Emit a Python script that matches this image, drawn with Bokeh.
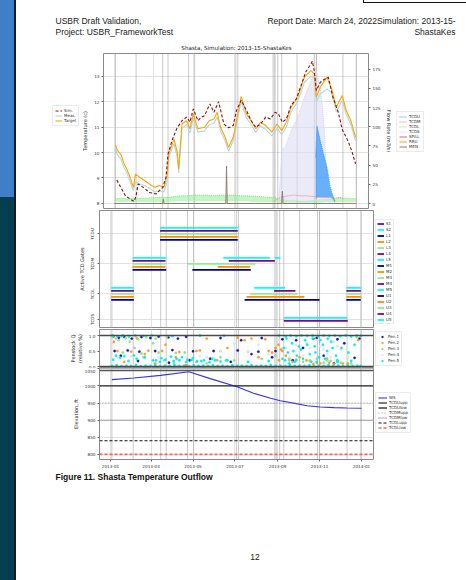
import pandas as pd
from bokeh.plotting import figure
from bokeh.models import (Range1d, LinearAxis, Legend, LegendItem, Span, Label,
                          FixedTicker, DatetimeTickFormatter, PrintfTickFormatter)
from bokeh.layouts import column, row
from bokeh.embed import file_html
from bokeh.resources import INLINE

# ---------------- text ----------------
header_left = ["USBR Draft Validation,", "Project: USBR_FrameworkTest"]
header_right = ["Report Date: March 24, 2022Simulation: 2013-15-", "ShastaKes"]
chart_title = "Shasta, Simulation: 2013-15-ShastaKes"
caption = "Figure 11. Shasta Temperature Outflow"
page_number = "12"

# ---------------- data (day of year 2013) ----------------
sim_days = [4,10,17,24,30,33,36,44,53,63,73,78,81,87,94,102,109,114,119,126,131,136,144,150,157,165,172,179,184,191,
            199,206,213,220,228,235,242,247,253,259,266,274,281,288,296,298,301,304,310,317,322,329,337,343,349,354,358,363]
sim_temp = [8.92,8.63,8.30,8.17,8.08,8.30,8.76,8.63,8.43,8.37,8.63,9.02,9.94,10.47,10.93,11.25,11.39,11.20,11.71,11.25,
            11.39,11.45,11.91,11.58,12.00,11.12,10.97,11.06,11.65,12.05,11.65,11.25,10.99,11.12,11.39,11.32,11.58,11.52,
            11.19,11.32,11.85,12.11,12.63,13.16,13.49,13.59,13.20,12.44,12.76,12.89,12.96,12.17,11.58,10.90,10.60,10.30,10.00,9.55]
obs_days = [2,5,10,15,19,24,29,32,39,46,53,61,68,75,80,82,90,95,97,102,109,114,119,126,136,143,150,155,160,167,172,179,
            184,191,199,206,213,220,228,237,245,252,259,266,276,286,296,301,304,310,320,327,334,343,349,356,363]
target_temp = [10.30,10.07,9.94,9.55,9.35,9.02,8.63,9.15,9.02,8.89,8.76,8.63,8.70,8.63,9.15,9.94,10.53,10.00,9.35,11.12,
               11.25,10.93,11.52,10.93,10.99,11.25,11.32,11.58,10.99,10.60,10.20,10.60,11.25,12.20,11.52,11.25,10.93,11.19,
               11.06,10.80,11.12,10.86,11.19,11.78,12.17,12.96,13.22,13.09,12.17,12.57,12.96,12.50,11.78,12.24,11.65,11.25,10.60]
meas_temp = [10.15,9.90,9.75,9.40,9.20,8.85,8.50,8.85,8.75,8.70,8.60,8.45,8.50,8.45,8.90,9.80,10.35,9.80,9.20,10.95,
             11.10,10.75,11.35,10.80,10.85,11.10,11.15,11.40,10.85,10.45,10.05,10.45,11.10,12.00,11.35,11.10,10.80,11.05,
             10.90,10.65,10.95,10.70,11.00,11.60,12.00,12.75,13.00,12.95,12.00,12.30,12.50,12.35,11.60,12.05,11.50,11.10,10.45]

tcdl_flow = [(2,2,6),(10,2,7),(20,2,6),(30,2,7),(40,2,7),(50,2,7),(60,2,8),(70,2,8),(80,2,8),(90,3,9),(100,3,10),
             (110,3,10),(120,3,11),(130,3,11),(140,3,11),(150,3,10),(160,3,11),(170,3,11),(180,3,11),(190,3,10),
             (200,3,10),(210,2,9),(220,2,9),(230,2,8),(240,2,8),(250,1,6),(260,1,4),(270,1,4),(280,1,3),(290,1,3),
             (300,1,4),(310,1,5),(320,2,6),(330,2,6),(340,2,7),(350,2,7),(364,2,6)]
tcds_flow = [(248,0,8),(252,3,70),(258,3,75),(266,3,95),(276,3,112),(286,3,138),(296,3,160),(303,3,177),
             (310,3,150),(315,3,110),(320,2,30),(326,0,8)]
tcdu_flow = [(303,5,60),(305,8,101),(310,8,82),(315,8,64),(320,8,47),(325,8,21),(329,6,10),(332,0,3)]
tcdm_flow = [(240,3),(250,8),(262,10),(270,11),(280,10),(290,10),(300,9),(310,8),(320,8),(330,7),(340,8),(345,6)]
spill_flow = [(0,0),(364,0)]
rru_flow = [(2,0),(344,0)]
men_flow = [(2,0),(73,0),(74,5.6),(75,0),(168,0),(169,49),(170,0),(252,0),(253,16),(254,0),(344,0)]
flow_names = ["TCDU", "TCDM", "TCDL", "TCDS", "SPILL", "RRU", "MEN"]

gate_changes = ["2013-01-03","2013-02-03","2013-03-15","2013-03-23","2013-04-23","2013-05-02","2013-07-03",
                "2013-07-06","2013-08-28","2013-08-30","2013-09-04","2013-09-10","2013-10-03","2013-10-29",
                "2013-11-01","2013-12-11","2013-12-31"]

gate_order = ["S1","S2","L1","L2","L3","L4","L5","M1","M2","M3","M4","M5","U1","U2","U3","U4","U5"]
gate_colors = ["#8b008b","#00ffff","#00008b","#ff8c00","#90ee90"]
gate_name = ["S1","S2",
             "L1","L1","L1","L2","L2","L2","L3","L3","L3","L4","L4","L4","L5","L5","L5",
             "M1","M1","M2","M2","M3","M3","M4","M4","M5","M5","M5",
             "U1","U2","U3","U4","U5"]
gate_open = ["2013-09-10","2013-09-10",
             "2013-01-02","2013-07-15","2013-12-10","2013-01-02","2013-07-18","2013-12-10",
             "2013-01-02","2013-07-23","2013-12-10","2013-01-02","2013-08-27","2013-12-10",
             "2013-01-02","2013-07-29","2013-12-10",
             "2013-02-02","2013-04-30","2013-02-02","2013-06-06","2013-02-02","2013-04-24",
             "2013-02-02","2013-06-22","2013-02-02","2013-06-14","2013-08-28",
             "2013-03-14","2013-03-14","2013-03-14","2013-03-14","2013-03-14"]
gate_close = ["2013-12-12","2013-12-11",
              "2013-02-04","2013-11-01","2013-12-31","2013-02-04","2013-10-10","2013-12-31",
              "2013-02-04","2013-09-30","2013-12-31","2013-02-04","2013-09-27","2013-12-31",
              "2013-02-04","2013-09-12","2013-12-31",
              "2013-03-23","2013-07-24","2013-03-22","2013-07-23","2013-03-22","2013-07-31",
              "2013-03-22","2013-08-28","2013-03-23","2013-08-21","2013-09-05",
              "2013-07-05","2013-07-05","2013-07-05","2013-07-05","2013-07-05"]
gate_levels = ["TCDS", "TCDL", "TCDM", "TCDU"]
gate_level_pos = [1.15, 2, 3, 4]

pen1 = [(4,0.97),(12,0.93),(20,0.96),(31,0.90),(45,0.95),(58,0.92),(70,0.97),(84,0.94),(98,0.90),(110,0.96),
        (6,0.50),(25,0.52),(42,0.48),(65,0.50),(90,0.53),(120,0.49),(150,0.50),(185,0.52),(215,0.48),(240,0.50),
        (15,0.35),(40,0.18),(85,0.12),(115,0.20),(145,0.25),(175,0.15),(205,0.40),(235,0.30),(265,0.20),
        (280,0.60),(295,0.90),(310,0.35),(325,0.10),(340,0.75),(355,0.28),(362,0.90),(160,0.92),(190,0.85),
        (220,0.92),(250,0.88),(270,0.85),(300,0.92),(330,0.88)]
pen2 = [(5,0.80),(20,0.15),(38,0.92),(50,0.40),(65,0.10),(80,0.70),(95,0.30),(110,0.05),(125,0.50),(140,0.90),
        (155,0.20),(170,0.60),(185,0.93),(195,0.85),(205,0.90),(215,0.30),(225,0.88),(235,0.45),(245,0.20),
        (255,0.35),(265,0.15),(275,0.30),(285,0.20),(300,0.12),(315,0.25),(330,0.18),(345,0.10),(360,0.85),
        (260,0.25),(270,0.22),(290,0.18),(10,0.50),(30,0.48),(55,0.51),(75,0.50),(100,0.47),(130,0.52),
        (160,0.50),(200,0.49),(230,0.50),(248,0.55),(295,0.08),(305,0.10),(318,0.12),(325,0.08),(338,0.10),
        (240,0.60),(244,0.70),(250,0.50)]
pen3 = [(3,0.95),(12,0.85),(22,0.92),(35,0.60),(48,0.30),(62,0.75),(78,0.20),(92,0.12),(108,0.45),(125,0.15),
        (140,0.10),(160,0.30),(180,0.20),(200,0.15),(220,0.25),(240,0.35),(260,0.20),(280,0.15),(300,0.25),
        (315,0.20),(330,0.15),(345,0.30),(358,0.95),(28,0.80),(310,0.12),(320,0.18),(8,0.90),(16,0.97),
        (40,0.88),(52,0.95),(66,0.90),(82,0.96),(18,0.45),(45,0.42),(70,0.45),(95,0.44),(290,0.20),(335,0.12),
        (350,0.10)]
pen4 = [(200,0.50),(215,0.70),(230,0.40),(245,0.85),(255,0.60),(265,0.90),(275,0.50),(285,0.75),(295,0.95),
        (305,0.65),(315,0.40),(325,0.80),(335,0.55),(345,0.30),(100,0.20),(120,0.60),(140,0.30),(160,0.50),
        (180,0.75),(10,0.30),(30,0.32),(50,0.28),(70,0.30),(110,0.30),(130,0.33),(150,0.28),(260,0.30),
        (270,0.70),(280,0.35),(290,0.60),(300,0.85),(310,0.55),(320,0.30),(330,0.65)]
pen5 = [(2,0.02),(9,0.04),(16,0.01),(23,0.03),(30,0.02),(37,0.05),(44,0.01),(51,0.03),(58,0.02),(65,0.04),
        (72,0.01),(79,0.03),(86,0.02),(93,0.05),(100,0.02),(107,0.03),(114,0.01),(121,0.04),(128,0.02),(135,0.03),
        (142,0.01),(149,0.04),(156,0.02),(163,0.03),(170,0.01),(177,0.04),(184,0.02),(191,0.03),(198,0.02),
        (205,0.04),(212,0.01),(219,0.03),(226,0.02),(233,0.05),(240,0.02),(247,0.03),(254,0.01),(261,0.04),
        (268,0.02),(275,0.03),(282,0.02),(289,0.04),(296,0.01),(303,0.03),(310,0.02),(317,0.04),(324,0.02),
        (331,0.03),(338,0.01),(345,0.04),(352,0.02),(359,0.03),(364,0.02),
        (4,0.22),(14,0.28),(26,0.18),(38,0.25),(50,0.30),(62,0.20),(74,0.27),(88,0.32),(96,0.25),(104,0.30),
        (112,0.22),(120,0.28),(132,0.18),(148,0.25),(170,0.20),(200,0.15),(230,0.18),(250,0.25),(270,0.20),
        (300,0.15),(330,0.20),(350,0.18),
        (66,0.20),(72,0.15),(80,0.22),(92,0.18),(100,0.20),(110,0.15),(118,0.22),(126,0.17),(136,0.20),
        (144,0.14),(152,0.20),(160,0.16),(168,0.20),(8,0.35),(20,0.33),(34,0.36),
        (3,1.00),(10,0.98),(18,1.00),(27,0.97),(36,1.00),(48,0.99),(60,1.00),(90,0.98),(130,1.00),(165,0.99),
        (245,1.00),(255,0.97),(262,1.00),(270,0.98),(278,1.00),(286,0.99),(294,1.00),(302,0.98),(310,1.00),
        (318,0.99),(326,1.00),(334,0.98),(342,1.00),(350,0.97),(358,1.00),(364,0.99),
        (252,0.60),(258,0.45),(264,0.75),(271,0.35),(277,0.55),(283,0.85),(290,0.40),(297,0.65),(303,0.30),
        (309,0.70),(315,0.50),(321,0.80),(328,0.35),(336,0.60),(346,0.45),(355,0.70),
        (254,0.20),(256,0.90),(260,0.10),(266,0.50),(268,0.15),(274,0.65),(280,0.25),(286,0.70),(292,0.15),
        (294,0.90),(298,0.45),(305,0.85),(312,0.25),(316,0.90),(323,0.60),(330,0.15)]
pen_names = ["Pen.1", "Pen.2", "Pen.3", "Pen.4", "Pen.5"]
pen_colors = ["#1a1aa0", "#ff9a2e", "#8fe08f", "#e2e2f6", "#00f0f0"]
pen_bounds = [0.0, 1.0]

ws_days = [2,34,73,114,145,184,208,233,247,266,286,305,325,344,365]
ws_elev = [1018.6,1023.4,1031.0,1041.5,1021.4,997.6,978.5,964.2,956.6,949.9,942.3,938.5,936.6,935.6,934.7]
ref_names = ["TCDUupp", "TCDUlow", "TCDMupp", "TCDMlow", "TCDLupp", "TCDLlow"]
ref_elev = [1045, 1000, 950, 900, 840, 800]

month_ticks = ["2013-01-01","2013-03-01","2013-05-01","2013-07-01","2013-09-01","2013-11-01","2014-01-01"]
temp_ticks = [8, 9, 10, 11, 12, 13]
flow_ticks = [0, 25, 50, 75, 100, 125, 150, 175]
elev_ticks = [800, 850, 900, 950, 1000, 1050]

# ---------------- helpers ----------------
BASE = pd.Timestamp("2013-01-01")
NAN = float("nan")
def to_dates(days):
    return [BASE + pd.Timedelta(days=float(v)) for v in days]
def ms(ts):
    return pd.Timestamp(ts).value / 1e6

FONT = "DejaVu Sans"
W = 466
x_rng = Range1d(start=pd.Timestamp("2012-12-16"), end=pd.Timestamp("2014-01-18 11:00"))
month_ms = [ms(t) for t in month_ticks]

def no_align(p):
    if "frame_align" in p.properties():
        p.frame_align = False

def style_axis(ax):
    ax.major_label_text_font = FONT
    ax.major_label_text_font_size = "4.2px"
    ax.major_label_text_color = "#333333"
    ax.axis_label_text_font = FONT
    ax.axis_label_text_font_size = "5px"
    ax.axis_label_text_font_style = "normal"
    ax.axis_label_text_color = "#222222"
    ax.axis_line_color = None
    ax.major_tick_line_color = "#666666"
    ax.major_tick_in = 0
    ax.major_tick_out = 2
    ax.minor_tick_line_color = None
    ax.major_label_standoff = 2
    ax.axis_label_standoff = 3

def make_panel(width, frame_h, border_b, y0, y1, mbl, mbr, xaxis=False):
    p = figure(width=width, height=frame_h + border_b, x_axis_type="datetime",
               x_axis_location="below" if xaxis else None,
               x_range=x_rng, y_range=Range1d(y0, y1), output_backend="svg",
               toolbar_location=None, title=None,
               min_border_left=mbl, min_border_right=mbr, min_border_top=0, min_border_bottom=border_b)
    no_align(p)
    p.border_fill_alpha = 0
    p.background_fill_color = "white"
    p.outline_line_color = "#8a8a8a"
    p.outline_line_width = 1
    p.xgrid.ticker = FixedTicker(ticks=month_ms)
    p.xgrid.grid_line_color = "#e2e2e2"
    p.ygrid.grid_line_color = "#e2e2e2"
    for d in gate_changes:
        p.add_layout(Span(location=ms(d), dimension="height", line_color="#7a7a7a",
                          line_dash="1 1", line_width=0.8, level="underlay"))
    for ax in p.yaxis:
        style_axis(ax)
    return p

def blank(w, h):
    p = figure(width=w, height=h, x_range=Range1d(0, w), y_range=Range1d(h, 0),
               output_backend="svg", toolbar_location=None, title=None,
               x_axis_location=None, y_axis_location=None, min_border=0)
    no_align(p)
    p.grid.visible = False
    p.outline_line_color = None
    p.background_fill_alpha = 0
    p.border_fill_alpha = 0
    return p

def legend_fig(w, h, entries, loc, glyph_w=8, spacing=0, padding=2):
    """A small figure holding a legend; entries are (label, kind, style).
    Its renderers carry a single NaN point, so only their legend samples show."""
    f = blank(w, h)
    items = []
    for label, kind, style in entries:
        if kind == "scatter":
            r = f.scatter(x=[NAN], y=[NAN], **style)
        else:
            r = f.line(x=[NAN, NAN], y=[NAN, NAN], **style)
        items.append(LegendItem(label=label, renderers=[r]))
    lg = Legend(items=items, location=loc)
    lg.label_text_font = FONT
    lg.label_text_font_size = "4px"
    lg.label_text_color = "#333333"
    lg.glyph_width = glyph_w
    lg.glyph_height = 5
    lg.label_height = 5
    lg.label_width = 0
    lg.spacing = spacing
    lg.padding = padding
    lg.margin = 0
    lg.label_standoff = 2
    lg.border_line_color = "#d8d8d8"
    lg.border_line_width = 0.6
    lg.background_fill_color = "white"
    f.add_layout(lg)
    return f

# ---------------- header ----------------
hdr = blank(W, 53)
for i, t in enumerate(header_left):
    hdr.add_layout(Label(x=55, y=20.7 + 11 * i, text=t, text_font="Liberation Sans", text_font_size="8.5px",
                         text_baseline="middle", text_align="left", text_color="#222222"))
for i, t in enumerate(header_right):
    hdr.add_layout(Label(x=455, y=20.7 + 11 * i, text=t, text_font="Liberation Sans", text_font_size="8.5px",
                         text_baseline="middle", text_align="right", text_color="#222222"))
hdr.add_layout(Label(x=236, y=47.5, text=chart_title, text_font=FONT, text_font_size="5.6px",
                     text_baseline="middle", text_align="center", text_color="#222222"))

# ---------------- panel 1: temperature + flows ----------------
st_sim = dict(line_color="#8b1010", line_width=1.1, line_dash="3 2")
st_meas = dict(line_color="#add8e6", line_width=1.1)
st_tgt = dict(line_color="#ffa500", line_width=1.1)
st_flow = [dict(line_color="#1e90ff", line_dash="1 1", line_width=0.9),
           dict(line_color="#f07080", line_dash="1 1", line_width=0.9),
           dict(line_color="#7fdc7f", line_dash="1 1", line_width=0.9),
           dict(line_color="#cfcff0", line_dash="1 1", line_width=0.9),
           dict(line_color="#f06060", line_width=1.0),
           dict(line_color="#ffa500", line_width=1.0),
           dict(line_color="#8a7e76", line_width=1.0)]

p1 = make_panel(316, 155, 2, 7.80, 13.89, mbl=20, mbr=22)
p1.yaxis.ticker = FixedTicker(ticks=temp_ticks)
p1.yaxis.axis_label = "Temperature (c)"
p1.extra_y_ranges = {"flow": Range1d(-6.5, 195.5)}
ax_r = LinearAxis(y_range_name="flow", axis_label="Flow Rate (m3/s)", ticker=FixedTicker(ticks=flow_ticks))
style_axis(ax_r)
p1.add_layout(ax_r, "right")

def env(rows):
    return to_dates([r[0] for r in rows]), [r[1] for r in rows], [r[2] for r in rows]

xs, lo, hi = env(tcdl_flow)
p1.varea(x=xs, y1=lo, y2=hi, fill_color="#90ee90", fill_alpha=0.55, y_range_name="flow")
p1.line(xs, hi, y_range_name="flow", **st_flow[2])
xs, lo, hi = env(tcds_flow)
p1.varea(x=xs, y1=lo, y2=hi, fill_color="#dcdcf4", fill_alpha=0.6, y_range_name="flow")
p1.line(xs, hi, y_range_name="flow", **st_flow[3])
xs, lo, hi = env(tcdu_flow)
p1.varea(x=xs, y1=lo, y2=hi, fill_color="#1e90ff", fill_alpha=0.65, y_range_name="flow")
p1.line(xs, hi, y_range_name="flow", **st_flow[0])
p1.line(to_dates([r[0] for r in tcdm_flow]), [r[1] for r in tcdm_flow], y_range_name="flow", **st_flow[1])
p1.line(to_dates([r[0] for r in spill_flow]), [r[1] for r in spill_flow], y_range_name="flow", **st_flow[4])
p1.line(to_dates([r[0] for r in rru_flow]), [r[1] for r in rru_flow], y_range_name="flow", **st_flow[5])
p1.line(to_dates([r[0] for r in men_flow]), [r[1] for r in men_flow], y_range_name="flow", **st_flow[6])
p1.line(to_dates(obs_days), meas_temp, **st_meas)
p1.line(to_dates(obs_days), target_temp, **st_tgt)
p1.line(to_dates(sim_days), sim_temp, **st_sim)

lf1 = legend_fig(79, 157, [("Sim.", "line", st_sim), ("Meas.", "line", st_meas), ("Target", "line", st_tgt)],
                 (52, 84), glyph_w=7)
rf1 = legend_fig(71, 157, [(n, "line", s) for n, s in zip(flow_names, st_flow)], (1, 58))
row1 = row(lf1, p1, rf1)

# ---------------- panel 2: active gates ----------------
p2 = make_panel(375, 117, 2, 0.877, 4.78, mbl=99, mbr=2)
p2.yaxis.ticker = FixedTicker(ticks=gate_level_pos)
p2.yaxis.major_label_overrides = {pos: n for pos, n in zip(gate_level_pos, gate_levels)}
p2.yaxis.major_label_orientation = "vertical"
p2.yaxis.axis_label = "Active TCD Gates"
level_of = {"S": gate_level_pos[0], "L": gate_level_pos[1], "M": gate_level_pos[2], "U": gate_level_pos[3]}
gate_entries = []
for gi, g in enumerate(gate_order):
    k = int(g[1])
    off = (k - 1.5) * 0.1 if g[0] == "S" else (k - 3) * 0.1
    yv = level_of[g[0]] + off
    idx = [i for i, n in enumerate(gate_name) if n == g]
    x0 = [pd.Timestamp(gate_open[i]) for i in idx]
    x1 = [pd.Timestamp(gate_close[i]) for i in idx]
    st = dict(line_color=gate_colors[gi % 5], line_width=1.8)
    p2.segment(x0=x0, y0=[yv] * len(idx), x1=x1, y1=[yv] * len(idx), **st)
    gate_entries.append((g, "line", st))
rf2 = legend_fig(91, 119, gate_entries, (0, 5), glyph_w=7, spacing=1, padding=1)
row2 = row(p2, rf2)

# ---------------- panel 3: penstock ----------------
p3 = make_panel(375, 38, 1, -0.032, 1.194, mbl=99, mbr=2)
p3.yaxis.ticker = FixedTicker(ticks=[0.0, 0.5, 1.0])
p3.yaxis.formatter = PrintfTickFormatter(format="%.1f")
p3.yaxis.axis_label = "Penstock Q\n(relative %)"
p3.ygrid.grid_line_color = None
for b in pen_bounds:
    p3.add_layout(Span(location=b, dimension="width", line_color="#4a4a4a", line_width=1.4))
pen_entries = []
for name, col, data in zip(pen_names, pen_colors, [pen1, pen2, pen3, pen4, pen5]):
    st = dict(size=2.4, fill_color=col, line_color=col, line_width=0.3)
    p3.scatter(to_dates([d[0] for d in data]), [d[1] for d in data], **st)
    pen_entries.append((name, "scatter", st))
rf3 = legend_fig(91, 39, pen_entries, (0, 2), spacing=1)
row3 = row(p3, rf3)

# ---------------- panel 4: elevation ----------------
p4 = make_panel(375, 93, 9, 785, 1051, mbl=99, mbr=2, xaxis=True)
p4.yaxis.ticker = FixedTicker(ticks=elev_ticks)
p4.yaxis.axis_label = "Elevation, ft"
style_axis(p4.xaxis[0])
p4.xaxis.ticker = FixedTicker(ticks=month_ms)
p4.xaxis.formatter = DatetimeTickFormatter(months="%Y-%m", days="%Y-%m", years="%Y-%m")
st_ws = dict(line_color="#3333ee", line_width=1.1)
p4.line(to_dates(ws_days), ws_elev, **st_ws)
ref_style = [dict(line_color="#555555", line_width=1.5), dict(line_color="#222222", line_width=1.3),
             dict(line_color="#9a9a9a", line_width=1.1, line_dash="1 2"),
             dict(line_color="#555555", line_width=1.0, line_dash="1 1"),
             dict(line_color="#111111", line_width=1.1, line_dash="3 2"),
             dict(line_color="#ff6060", line_width=1.6, line_dash="3 2")]
ref_entries = [("WS", "line", st_ws)]
for n, v, st in zip(ref_names, ref_elev, ref_style):
    p4.line([x_rng.start, x_rng.end], [v, v], **st)
    ref_entries.append((n, "line", st))
rf4 = legend_fig(91, 102, ref_entries, (0, 37), glyph_w=9)
row4 = row(p4, rf4)

# ---------------- footer ----------------
ftr = blank(W, 110)
ftr.add_layout(Label(x=55, y=6, text=caption, text_font="Liberation Sans", text_font_size="8.5px",
                     text_font_style="bold", text_baseline="middle", text_align="left", text_color="#111111"))
ftr.add_layout(Label(x=254.5, y=86, text=page_number, text_font="Liberation Sans", text_font_size="8.5px",
                     text_baseline="middle", text_align="center", text_color="#222222"))

page_bg = ("linear-gradient(#3e7fc8,#3e7fc8) 0 0 / 14px 197px no-repeat, "
           "linear-gradient(#033f51,#033f51) 0 197px / 14px 400px no-repeat, "
           "linear-gradient(#1a1a1a,#1a1a1a) 14px 0 / 2px 580px no-repeat, "
           "linear-gradient(#111111,#111111) 363px 0 / 1px 3px no-repeat, "
           "linear-gradient(#111111,#111111) 363px 2px / 103px 1px no-repeat, #ffffff")
layout = column(hdr, row1, row2, row3, row4, ftr, styles={"background": page_bg})

open("out.html", "w").write(file_html(layout, INLINE))
